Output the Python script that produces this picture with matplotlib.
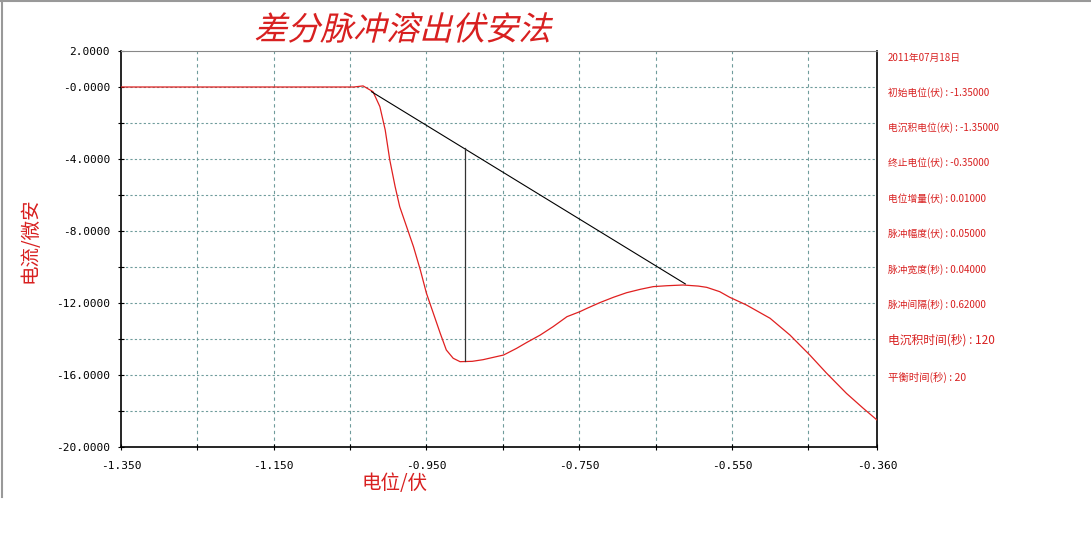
import numpy as np
import matplotlib
matplotlib.use('Agg')
import matplotlib.pyplot as plt
from matplotlib.lines import Line2D
from matplotlib.textpath import TextPath
from matplotlib.patches import PathPatch
from matplotlib.font_manager import FontProperties
from matplotlib.transforms import Affine2D

plt.rcParams['font.family'] = ['Noto Sans CJK SC', 'DejaVu Sans']

# Differential pulse stripping voltammogram
potential = [-1.350, -1.200, -1.100, -1.045, -1.033, -1.020, -1.011, -1.004, -0.998,
             -0.991, -0.985, -0.976, -0.967, -0.958, -0.950, -0.941, -0.932, -0.924,
             -0.915, -0.906, -0.890, -0.876, -0.849, -0.832, -0.819, -0.801, -0.784,
             -0.766, -0.749, -0.740, -0.723, -0.705, -0.688, -0.670, -0.653, -0.635,
             -0.614, -0.594, -0.583, -0.566, -0.553, -0.531, -0.500, -0.474, -0.448,
             -0.426, -0.400, -0.378, -0.360]
current = [0.0, 0.0, 0.0, 0.0, 0.06, -0.26, -1.09, -2.39, -4.06,
           -5.54, -6.65, -7.76, -8.87, -10.17, -11.46, -12.57, -13.68, -14.61,
           -15.07, -15.26, -15.24, -15.15, -14.89, -14.52, -14.20, -13.78, -13.31,
           -12.76, -12.48, -12.30, -11.98, -11.68, -11.43, -11.24, -11.09, -11.04,
           -11.00, -11.06, -11.13, -11.37, -11.68, -12.11, -12.85, -13.78, -14.89,
           -15.90, -17.02, -17.85, -18.50]

# baseline and peak height marker
base_x = [-1.022, -0.611]
base_y = [-0.26, -10.94]
peak_x = [-0.900, -0.900]
peak_y = [-3.41, -15.22]

xticks = [-1.350, -1.150, -0.950, -0.750, -0.550, -0.360]
yticks = [2, 0, -4, -8, -12, -16, -20]
ytick_labels = ['2.0000', '-0.0000', '-4.0000', '-8.0000', '-12.0000', '-16.0000', '-20.0000']

title = '差分脉冲溶出伏安法'
info = ['2011年07月18日', '初始电位(伏) : -1.35000', '电沉积电位(伏) : -1.35000',
        '终止电位(伏) : -0.35000', '电位增量(伏) : 0.01000', '脉冲幅度(伏) : 0.05000',
        '脉冲宽度(秒) : 0.04000', '脉冲间隔(秒) : 0.62000', '电沉积时间(秒) : 120',
        '平衡时间(秒) : 20']
info_y = [58, 93, 128, 163, 199, 234, 270, 305, 340, 377]
info_size = [7, 7, 7, 7, 7, 7, 7, 7, 8.5, 7.5]

red = '#d82020'

fig = plt.figure(figsize=(10.91, 5.40), dpi=100)
ax = fig.add_axes([121/1091, 1 - 447/540, 756/1091, 396/540])

grid_c = '#6f9c9c'
for gx in np.arange(-1.25, -0.40, 0.1):
    ax.axvline(gx, color=grid_c, lw=0.8, ls=(0, (3, 3)), zorder=0)
for gy in np.arange(-18, 2, 2):
    ax.axhline(gy, color=grid_c, lw=0.8, ls=(0, (2, 2)), zorder=0)

ax.plot(potential, current, color='#e02020', lw=0.9, zorder=3)
ax.plot(base_x, base_y, color='black', lw=0.8, zorder=4)
ax.plot(peak_x, peak_y, color='#333333', lw=0.9, zorder=4)

ax.set_xlim(-1.35, -0.36)
ax.set_ylim(-20, 2)
ax.set_xticks(xticks)
ax.set_xticklabels(['%.3f' % v for v in xticks], family='DejaVu Sans Mono', fontsize=8)
ax.set_yticks(yticks)
ax.set_yticklabels(ytick_labels, family='DejaVu Sans Mono', fontsize=8)
ax.set_yticks(np.arange(-18, 2, 2), minor=True)
ax.set_xticks(np.arange(-1.25, -0.40, 0.1), minor=True)
ax.tick_params(which='both', direction='inout', length=4, width=0.8, pad=6)
ax.tick_params(axis='x', pad=8)
ax.spines['top'].set_color('#888888')
for s in ['left', 'bottom', 'right']:
    ax.spines[s].set_linewidth(1.2)

fig.text(30/1091, 1 - 240/540, '电流/微安', color=red, fontsize=14,
         rotation=90, ha='center', va='center')
fig.text(395/1091, 1 - 483/540, '电位/伏', color=red, fontsize=14,
         ha='center', va='center')

# italic title: slant the glyph outlines (CJK font has no italic face)
tp = TextPath((0, 0), title, size=33, prop=FontProperties(family='Noto Sans CJK SC', weight='light'))
title_patch = PathPatch(tp, facecolor=red, edgecolor='none',
                        transform=Affine2D().skew_deg(14, 0).translate(254, 540 - 40))
fig.add_artist(title_patch)

for t, y, s in zip(info, info_y, info_size):
    fig.text(888/1091, 1 - y/540, t, color=red, fontsize=s, va='center', ha='left')

# window frame
fig.add_artist(Line2D([2/1091, 2/1091], [1, 1 - 497/540], color='#999999', lw=1.5))
fig.add_artist(Line2D([0, 1], [1 - 1/540, 1 - 1/540], color='#999999', lw=1.5))

fig.savefig('out.png', dpi=100)
